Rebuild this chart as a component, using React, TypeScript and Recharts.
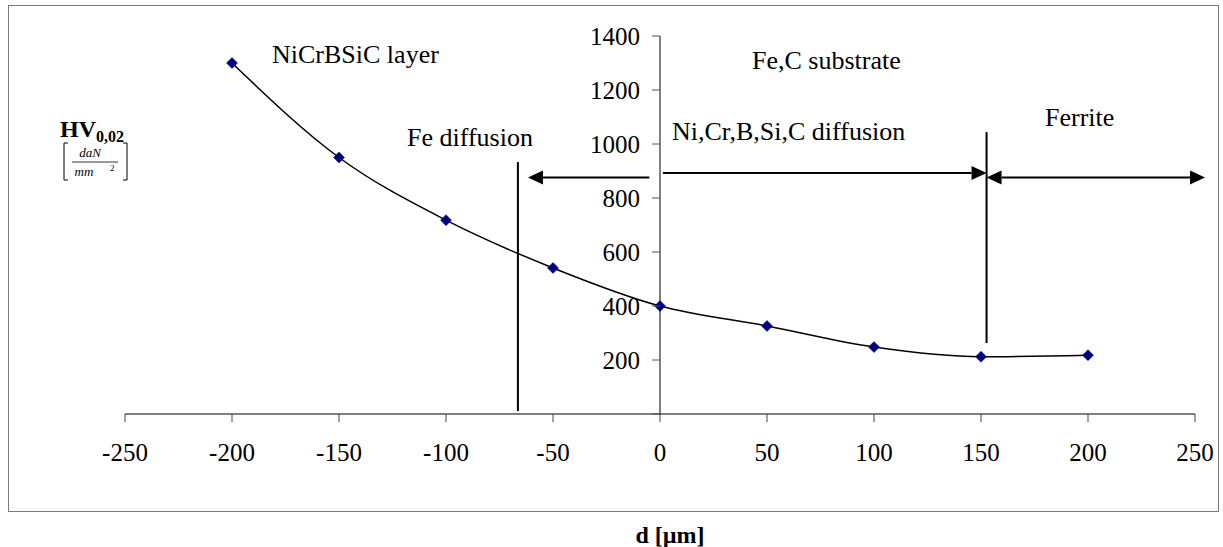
import React from "react"
import { LineChart, Line, XAxis, YAxis, ReferenceLine } from "recharts"

// depth from the coating/substrate interface [µm] and microhardness HV0,02
const depth = [-200, -150, -100, -50, 0, 50, 100, 150, 200]
const hardness = [1300, 950, 718, 541, 400, 326, 248, 212, 218]

const xTicks = [-250, -200, -150, -100, -50, 0, 50, 100, 150, 200, 250]
const yTicks = [0, 200, 400, 600, 800, 1000, 1200, 1400]

// zone boundaries and arrows, in data units
const boundaries = [
  { x: -66.4, from: 11, to: 933 },
  { x: 152.6, from: 263, to: 1044 },
]
const arrows = [
  { from: -5, to: -61.7, y: 876, both: false },
  { from: 1.4, to: 152.6, y: 893, both: false },
  { from: 152.6, to: 254.7, y: 876, both: true },
]

const data = depth.map((d, i) => ({ d, hv: hardness[i] }))

const W = 1223
const H = 547
const Y_AXIS_W = 1
const margin = { top: 36, right: 28, bottom: 83, left: 125 - Y_AXIS_W }
const X_AXIS_H = 50
const plotLeft = margin.left + Y_AXIS_W
const plotW = W - plotLeft - margin.right
const zeroX = plotLeft + (plotW * (0 - xTicks[0])) / (xTicks[xTicks.length - 1] - xTicks[0])
const FONT = "'Liberation Serif', 'Times New Roman', serif"

const Diamond = (props: any) => {
  const { cx, cy } = props
  if (cx == null || cy == null) return null
  const r = 5.5
  return (
    <polygon
      points={`${cx},${cy - r} ${cx + r},${cy} ${cx},${cy + r} ${cx - r},${cy}`}
      fill="#000080"
      stroke="#000080"
      strokeWidth={0.5}
    />
  )
}

const YTick = (props: any) => {
  const { y, payload } = props
  const ax = zeroX
  return (
    <g>
      <line x1={ax - 8} x2={ax} y1={y} y2={y} stroke="#555" strokeWidth={1} />
      {payload.value !== 0 && (
        <text x={ax - 20} y={y} dy="0.35em" textAnchor="end" fontFamily={FONT} fontSize={25} fill="#000">
          {payload.value}
        </text>
      )}
    </g>
  )
}

const arrowShape = (both: boolean) => (props: any) => {
  const { x1, y1, x2, y2 } = props
  const dir = x2 > x1 ? 1 : -1
  const len = 15
  const hw = 7
  const head = (tx: number, dr: number) =>
    `${tx},${y2} ${tx - dr * len},${y2 - hw} ${tx - dr * len},${y2 + hw}`
  const sx = both ? x1 + dir * len : x1
  return (
    <g>
      <line x1={sx} y1={y1} x2={x2 - dir * len} y2={y2} stroke="#000" strokeWidth={2} />
      <polygon points={head(x2, dir)} fill="#000" />
      {both && <polygon points={head(x1, -dir)} fill="#000" />}
    </g>
  )
}

export default function App() {
  return (
    <div style={{ position: "absolute", left: 0, top: 0, width: W, height: H, background: "#fff" }}>
      <div
        style={{
          position: "absolute",
          left: 8,
          top: 5,
          width: 1209,
          height: 505,
          border: "1.5px solid #7a7a7a",
        }}
      />
      <LineChart
        width={W}
        height={H}
        data={data}
        margin={margin}
        style={{ position: "absolute", left: 0, top: 0 }}
      >
        <XAxis
          dataKey="d"
          type="number"
          domain={[-250, 250]}
          ticks={xTicks}
          height={X_AXIS_H}
          axisLine={{ stroke: "#000", strokeWidth: 1 }}
          tickLine={{ stroke: "#444" }}
          tickSize={8}
          tickMargin={21}
          tick={{ fontFamily: FONT, fontSize: 25, fill: "#000" }}
          interval={0}
        />
        <YAxis
          type="number"
          domain={[0, 1400]}
          ticks={yTicks}
          width={Y_AXIS_W}
          axisLine={false}
          tickLine={false}
          tick={<YTick />}
          interval={0}
        />
        <ReferenceLine
          segment={[{ x: 0, y: 0 }, { x: 0, y: 1400 }]}
          stroke="#000"
          strokeWidth={1}
          ifOverflow="visible"
        />
        {boundaries.map((b, i) => (
          <ReferenceLine
            key={`b${i}`}
            segment={[{ x: b.x, y: b.from }, { x: b.x, y: b.to }]}
            stroke="#000"
            strokeWidth={2}
            ifOverflow="visible"
          />
        ))}
        {arrows.map((a, i) => (
          <ReferenceLine
            key={`a${i}`}
            segment={[{ x: a.from, y: a.y }, { x: a.to, y: a.y }]}
            ifOverflow="visible"
            shape={arrowShape(a.both)}
          />
        ))}
        <Line
          dataKey="hv"
          type="monotone"
          stroke="#000"
          strokeWidth={1.5}
          dot={<Diamond />}
          activeDot={false}
          isAnimationActive={false}
        />
      </LineChart>
      <svg
        width={W}
        height={H}
        style={{ position: "absolute", left: 0, top: 0, pointerEvents: "none" }}
        fontFamily={FONT}
      >
        <text x={272} y={63} fontSize={26}>NiCrBSiC layer</text>
        <text x={752} y={69} fontSize={26}>Fe,C substrate</text>
        <text x={407} y={146} fontSize={26}>Fe diffusion</text>
        <text x={672} y={140} fontSize={26}>Ni,Cr,B,Si,C diffusion</text>
        <text x={1045} y={126} fontSize={26}>Ferrite</text>
        <text x={670} y={543} fontSize={24} fontWeight="bold" textAnchor="middle">d [µm]</text>
        <text x={60} y={137} fontSize={24} fontWeight="bold">
          HV<tspan fontSize={16} dy={5}>0,02</tspan>
        </text>
        <path d="M68,143 h-4 v37 h4" fill="none" stroke="#000" strokeWidth={1} />
        <path d="M123,143 h4 v37 h-4" fill="none" stroke="#000" strokeWidth={1} />
        <text x={90} y={157} fontSize={13} fontStyle="italic" textAnchor="middle">daN</text>
        <line x1={72} x2={118} y1={162} y2={162} stroke="#000" strokeWidth={0.8} />
        <text x={84} y={176} fontSize={13} fontStyle="italic" textAnchor="middle">mm</text>
        <text x={110} y={171} fontSize={9}>2</text>
      </svg>
    </div>
  )
}
